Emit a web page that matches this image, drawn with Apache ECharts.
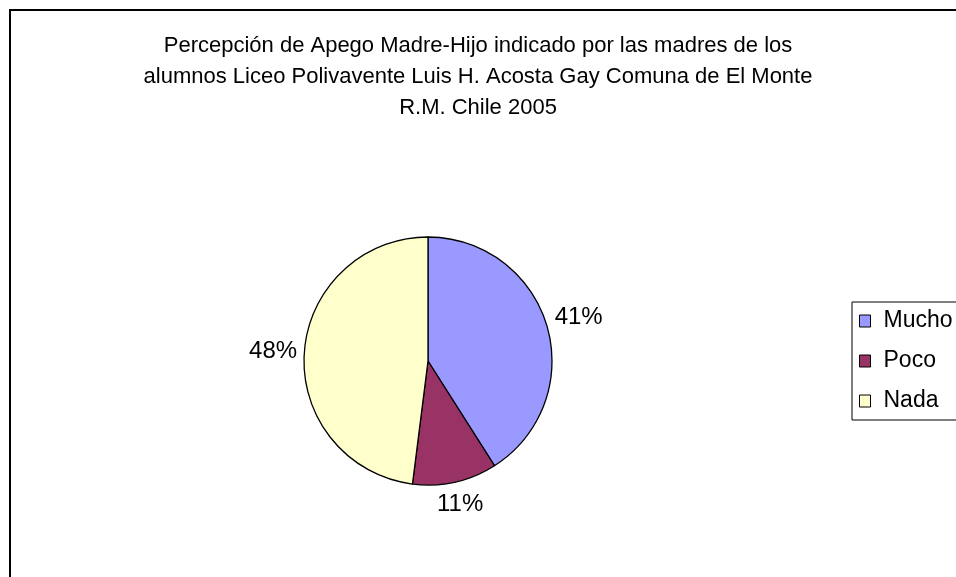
<!DOCTYPE html>
<html><head><meta charset="utf-8">
<script src="https://cdn.jsdelivr.net/npm/echarts@6/dist/echarts.min.js"></script>
<style>html,body{margin:0;padding:0;background:#fff}#c{width:956px;height:577px}</style>
</head><body><div id="c"></div>
<script>
const categories = ['Mucho', 'Poco', 'Nada'];
const values = [41, 11, 48];
const colors = ['#9999FF', '#993366', '#FFFFCC'];
const titleLines = ['Percepción de Apego Madre-Hijo indicado por las madres de los',
  'alumnos Liceo Polivavente Luis H. Acosta Gay Comuna de El Monte',
  'R.M. Chile 2005'];

const data = categories.map((n, i) => ({ name: n, value: values[i], itemStyle: { color: colors[i] } }));
const font = 'Liberation Sans, Arial, sans-serif';
const C = [428, 361], R = 124, GAP = 6.5;
const chart = echarts.init(document.getElementById('c'), null, { renderer: 'canvas' });
chart.setOption({
  backgroundColor: '#fff',
  animation: false,
  title: {
    text: titleLines.join('\n'), left: 478, top: 30, textAlign: 'center', padding: 0,
    textStyle: { fontFamily: font, fontSize: 22, fontWeight: 'normal', color: '#000', lineHeight: 31 }
  },
  legend: {
    orient: 'vertical', left: 852, top: 302, data: categories,
    itemWidth: 11, itemHeight: 12, itemGap: 16, icon: 'rect',
    padding: [7, 60, 7, 7], borderColor: '#000', borderWidth: 1,
    itemStyle: { borderColor: '#000', borderWidth: 1 },
    textStyle: { fontFamily: font, fontSize: 23, lineHeight: 24, color: '#000', padding: [0, 0, 0, 8] }
  },
  graphic: [{ type: 'rect', shape: { x: 10, y: 10, width: 1000, height: 1000 },
    style: { fill: 'none', stroke: '#000', lineWidth: 2 }, silent: true }],
  series: [{
    type: 'pie', center: C, radius: R, startAngle: 90, clockwise: true,
    data: data,
    label: { show: true, position: 'inside', formatter: p => Math.round(p.percent) + '%',
      fontFamily: font, fontSize: 24, color: '#000' },
    labelLine: { show: false },
    labelLayout: function (p) {
      const r = p.labelRect;
      const cx = r.x + r.width / 2, cy = r.y + r.height / 2;
      const dx = cx - C[0], dy = cy - C[1], d = Math.hypot(dx, dy) || 1;
      const ux = dx / d, uy = dy / d;
      const t = R + GAP + Math.abs(ux) * r.width / 2 + Math.abs(uy) * r.height / 2;
      return { x: C[0] + ux * t, y: C[1] + uy * t, align: 'center', verticalAlign: 'middle' };
    },
    itemStyle: { borderColor: '#000', borderWidth: 1.3 }, emphasis: { disabled: true }
  }]
});
</script></body></html>
